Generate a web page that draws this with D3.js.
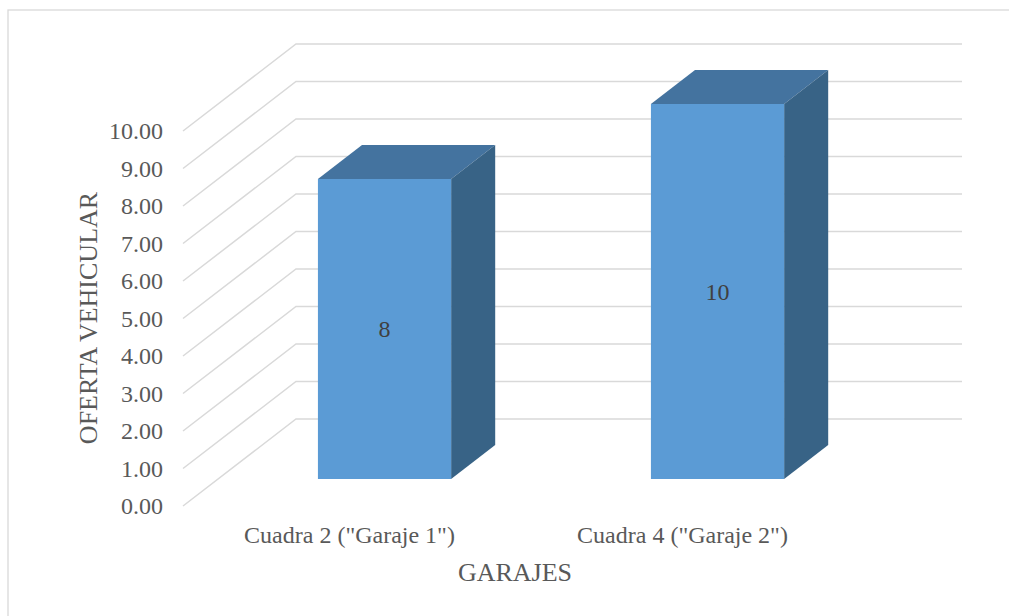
<!DOCTYPE html>
<html>
<head>
<meta charset="utf-8">
<script src="https://cdn.jsdelivr.net/npm/d3@7"></script>
<style>
  body { margin: 0; background: #fff; }
  text { font-family: "Liberation Serif", "Times New Roman", serif; fill: #595959; }
</style>
</head>
<body>
<script>
// data
var categories = ['Cuadra 2 ("Garaje 1")', 'Cuadra 4 ("Garaje 2")'];
var values = [8, 10];
var ticks = [0, 1, 2, 3, 4, 5, 6, 7, 8, 9, 10];

var svg = d3.select("body").append("svg").attr("width", 1009).attr("height", 616);

// chart border
svg.append("rect").attr("x", 8).attr("y", 10).attr("width", 1010).attr("height", 620)
  .attr("fill", "none").attr("stroke", "#d9d9d9").attr("stroke-width", 1.3);

// oblique 3d: front floor corner at (183,506), depth vector to the back wall (113,-87)
var ox = 183, oy = 506, depthX = 113, depthY = -87;
var x = d3.scaleBand().domain(categories).range([0, 666]).paddingInner(0.6).paddingOuter(0.3);
var y = d3.scaleLinear().domain([0, 10]).range([0, 375]);
var z = d3.scaleLinear().domain([0, 1]).range([0, 1]);

function pt(px, v, d) {
  return [ox + px + z(d) * depthX, oy - y(v) + z(d) * depthY];
}

var grid = svg.append("g").attr("stroke", "#d9d9d9").attr("stroke-width", 1.5).attr("fill", "none");
grid.selectAll("path").data(ticks).join("path")
  .attr("d", function(t) {
    return d3.line()([pt(0, t, 0), pt(0, t, 1), pt(666, t, 1)]);
  });

// y tick labels
svg.append("g").selectAll("text").data(ticks).join("text")
  .attr("x", 163).attr("y", function(t) { return pt(0, t, 0)[1]; })
  .attr("dy", "0.35em").attr("text-anchor", "end").attr("font-size", 24)
  .text(function(t) { return d3.format(".2f")(t); });

// bars
var zf = 0.31, zb = 0.70;
var bars = svg.append("g").selectAll("g").data(categories).join("g");
bars.append("path").attr("fill", "#44739f")
  .attr("d", function(c, i) {
    var x0 = x(c), x1 = x(c) + x.bandwidth(), v = values[i];
    return d3.line()([pt(x0, v, zf), pt(x0, v, zb), pt(x1, v, zb), pt(x1, v, zf)]) + "Z";
  });
bars.append("path").attr("fill", "#386386")
  .attr("d", function(c, i) {
    var x1 = x(c) + x.bandwidth(), v = values[i];
    return d3.line()([pt(x1, 0, zf), pt(x1, v, zf), pt(x1, v, zb), pt(x1, 0, zb)]) + "Z";
  });
bars.append("path").attr("fill", "#5b9bd5")
  .attr("d", function(c, i) {
    var x0 = x(c), x1 = x(c) + x.bandwidth(), v = values[i];
    return d3.line()([pt(x0, 0, zf), pt(x0, v, zf), pt(x1, v, zf), pt(x1, 0, zf)]) + "Z";
  });
bars.append("text")
  .attr("x", function(c) { return pt(x(c) + x.bandwidth() / 2, 0, zf)[0]; })
  .attr("y", function(c, i) { return pt(0, values[i] / 2, zf)[1]; })
  .attr("dy", "0.35em").attr("text-anchor", "middle").attr("font-size", 24)
  .style("fill", "#404040")
  .text(function(c, i) { return values[i]; });

// category labels at the front floor
svg.append("g").selectAll("text").data(categories).join("text")
  .attr("x", function(c) { return pt(x(c) + x.bandwidth() / 2, 0, 0)[0]; })
  .attr("y", 535).attr("dy", "0.35em").attr("text-anchor", "middle").attr("font-size", 24)
  .text(function(c) { return c; });

// axis titles
svg.append("text").attr("x", 515).attr("y", 572).attr("dy", "0.35em")
  .attr("text-anchor", "middle").attr("font-size", 26).text("GARAJES");
svg.append("text").attr("transform", "translate(88,318) rotate(-90)").attr("dy", "0.35em")
  .attr("text-anchor", "middle").attr("font-size", 26).text("OFERTA VEHICULAR");
</script>
</body>
</html>
